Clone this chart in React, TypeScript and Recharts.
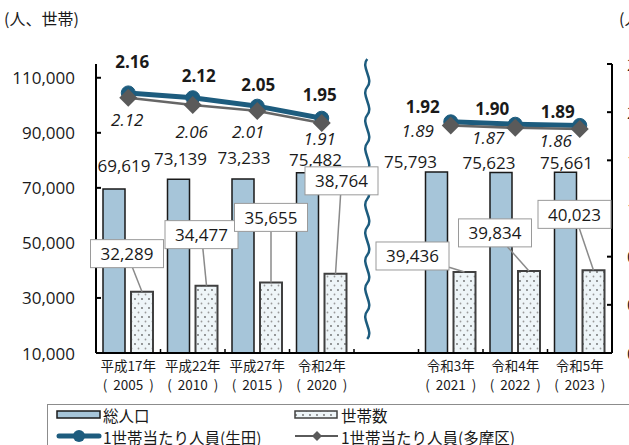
import React from 'react'
import { ComposedChart, Bar, Line, XAxis, YAxis, LabelList, ReferenceLine } from 'recharts'

const categories = ['平成17年', '平成22年', '平成27年', '令和2年', '', '令和3年', '令和4年', '令和5年']
const years = ['2005', '2010', '2015', '2020', '', '2021', '2022', '2023']
const population = [69619, 73139, 73233, 75482, null, 75793, 75623, 75661]
const households = [32289, 34477, 35655, 38764, null, 39436, 39834, 40023]
const ikutaPerHousehold = [2.16, 2.12, 2.05, 1.95, null, 1.92, 1.9, 1.89]
const tamaPerHousehold = [2.12, 2.06, 2.01, 1.91, null, 1.89, 1.87, 1.86]
const leftTicks = [10000, 30000, 50000, 70000, 90000, 110000]
const rightTicks = [0, 0.4, 0.8, 1.2, 1.6, 2.0, 2.4]

// label placement tweaks (dx, dy) per category, like the hand-placed labels in the original
const popLabelOffset = [[10, -23], [2, -21], [1, -21], [8, -13], [0, 0], [-26, -10], [-12, -10], [1, -10]]
const hhBoxOffset = [[-15, -38], [-5, -51], [0, -65], [6, -93], [0, 0], [-52, -16], [-34, -38], [-19, -56]]
const ikutaLabelOffset = [[4, -31], [6, -22], [1, -22], [-2, -24], [0, 0], [-28, -15], [-23, -16], [-22, -14]]
const tamaLabelOffset = [[-1, 22], [-1, 27], [-9, 21], [-2, 15], [0, 0], [-33, 5], [-27, 10], [-24, 11]]

const keys = categories.map((c, i) => c || 'gap' + i)
const data = keys.map((k, i) => ({
  key: k,
  population: population[i],
  households: households[i],
  ikuta: ikutaPerHousehold[i],
  tama: tamaPerHousehold[i]
}))

const FONT = '"Noto Sans CJK JP", "Noto Sans", sans-serif'
const NUM_FONT = '"Open Sans", "Noto Sans", sans-serif'
const TEXT = '#1a1a1a'
const IKUTA = '#1d5c7e'
const TAMA = '#5a5a5a'
const POP_FILL = '#a6c5d9'
const W = 629
const H = 445
const LEFT = 96
const RIGHT = 17
const BAND = (W - LEFT - RIGHT) / categories.length

const LeftTick = ({ x, y, payload }: any) => (
  <g>
    <text x={x} y={y} textAnchor="end" dominantBaseline="central" fontSize={17} fill={TEXT} fontFamily={NUM_FONT}>
      {Number(payload.value).toLocaleString('en-US')}
    </text>
    <line x1={x + 21} x2={x + 26} y1={y} y2={y} stroke="#000" strokeWidth={2} />
  </g>
)

const RightTick = ({ x, y, payload }: any) => (
  <g>
    <text x={x} y={y} textAnchor="start" dominantBaseline="central" fontSize={17} fill={TEXT} fontFamily={NUM_FONT}>
      {Number(payload.value).toFixed(1)}
    </text>
    <line x1={x - 15} x2={x - 20} y1={y} y2={y} stroke="#000" strokeWidth={2} />
  </g>
)

const CategoryTick = ({ x, y, payload }: any) => {
  const i = keys.indexOf(payload.value)
  return (
    <g>
      <line x1={x - BAND / 2} x2={x - BAND / 2} y1={y - 4} y2={y} stroke="#000" strokeWidth={1.5} />
      <text x={x} y={y + 12} textAnchor="middle" dominantBaseline="central" fontSize={13.5} fill={TEXT} fontFamily={FONT}>
        {categories[i]}
      </text>
      {years[i] && (
        <text x={x} y={y + 31} textAnchor="middle" dominantBaseline="central" fontSize={13.5} fill={TEXT} fontFamily={FONT}>
          (<tspan dx={6}>{years[i]}</tspan><tspan dx={6}>)</tspan>
        </text>
      )}
    </g>
  )
}

const PopLabel = ({ x, y, width, value }: any) => {
  const i = population.indexOf(value)
  if (value == null || i < 0) return null
  const [dx, dy] = popLabelOffset[i]
  return (
    <text x={x + width / 2 + dx} y={y + dy} textAnchor="middle" dominantBaseline="central" fontSize={17} fill={TEXT} fontFamily={NUM_FONT}>
      {Number(value).toLocaleString('en-US')}
    </text>
  )
}

const HouseholdLabel = ({ x, y, width, value }: any) => {
  const i = households.indexOf(value)
  if (value == null || i < 0) return null
  const [dx, dy] = hhBoxOffset[i]
  const tx = x + width / 2
  const ty = y
  const cx = tx + dx
  const cy = ty + dy
  const hw = 36.5
  const hh = 14
  const vx = tx - cx
  const vy = ty - cy
  const t = Math.min(vx === 0 ? 1e9 : hw / Math.abs(vx), vy === 0 ? 1e9 : hh / Math.abs(vy), 1)
  return (
    <g>
      <line x1={cx + vx * t} y1={cy + vy * t} x2={tx} y2={ty} stroke="#8a8a8a" strokeWidth={1.5} />
      <rect x={cx - hw} y={cy - hh} width={hw * 2} height={hh * 2} fill="#fff" stroke="#9a9a9a" strokeWidth={1} />
      <text x={cx} y={cy} textAnchor="middle" dominantBaseline="central" fontSize={17} fill={TEXT} fontFamily={NUM_FONT}>
        {Number(value).toLocaleString('en-US')}
      </text>
    </g>
  )
}

const makeLineLabel = (series: (number | null)[], offsets: number[][], style: any) => ({ x, y, value }: any) => {
  const i = series.indexOf(value)
  if (value == null || i < 0) return null
  const [dx, dy] = offsets[i]
  return (
    <text x={x + dx} y={y + dy} textAnchor="middle" dominantBaseline="central" fontSize={17} fill={TEXT} fontFamily={NUM_FONT} {...style}>
      {Number(value).toFixed(2)}
    </text>
  )
}

const IkutaLabel = makeLineLabel(ikutaPerHousehold, ikutaLabelOffset, { fontWeight: 700 })
const TamaLabel = makeLineLabel(tamaPerHousehold, tamaLabelOffset, { fontStyle: 'italic' })

const Diamond = ({ cx, cy, index }: any) => {
  if (cx == null || cy == null) return <g key={'d' + index} />
  const r = 9
  return (
    <polygon
      key={'d' + index}
      points={`${cx},${cy - r} ${cx + r},${cy} ${cx},${cy + r} ${cx - r},${cy}`}
      fill={TAMA}
    />
  )
}

// wavy break mark between 2020 and 2021
const WaveBreak = ({ x1, y1, y2 }: any) => {
  const x = x1 - 19
  const top = Math.min(y1, y2) - 5
  const bottom = Math.max(y1, y2) - 8
  const step = 28
  let d = `M ${x} ${top}`
  for (let yy = top; yy + step <= bottom + 1; yy += step) {
    d += ` C ${x - 7} ${yy + 8}, ${x + 7} ${yy + 20}, ${x} ${yy + step}`
  }
  return <path d={d} fill="none" stroke={IKUTA} strokeWidth={2.5} />
}

const DotPattern = ({ id }: { id: string }) => (
  <pattern id={id} width={7} height={9} patternUnits="userSpaceOnUse">
    <rect width={7} height={9} fill="#eef5f8" />
    <circle cx={2} cy={2} r={0.9} fill="#6a6a6a" />
    <circle cx={5.5} cy={6.5} r={0.9} fill="#9a9a9a" />
  </pattern>
)

const LegendBox = () => (
  <svg width={W} height={50} style={{ position: 'absolute', left: 0, top: 395 }}>
    <defs>
      <DotPattern id="legendDots" />
    </defs>
    <rect x={47.5} y={9.5} width={640} height={60} fill="#fff" stroke="#8c8c8c" strokeWidth={1} />
    <rect x={57} y={16} width={43} height={7} fill={POP_FILL} stroke="#1a1a1a" strokeWidth={1.5} />
    <text x={103} y={19.5} dominantBaseline="central" fontSize={15.5} fill={TEXT} fontFamily={FONT}>総人口</text>
    <rect x={295} y={16} width={42} height={7} fill="url(#legendDots)" stroke="#404040" strokeWidth={1.5} />
    <text x={341} y={19.5} dominantBaseline="central" fontSize={15.5} fill={TEXT} fontFamily={FONT}>世帯数</text>
    <line x1={59} x2={99} y1={41} y2={41} stroke={IKUTA} strokeWidth={5} strokeLinecap="round" />
    <circle cx={79} cy={41} r={6} fill={IKUTA} />
    <text x={103} y={42} dominantBaseline="central" fontSize={15.5} fill={TEXT} fontFamily={FONT}>1世帯当たり人員(生田)</text>
    <line x1={295} x2={338} y1={41} y2={41} stroke={TAMA} strokeWidth={2} />
    <polygon points="317,36 322,41 317,46 312,41" fill={TAMA} />
    <text x={341} y={42} dominantBaseline="central" fontSize={15.5} fill={TEXT} fontFamily={FONT}>1世帯当たり人員(多摩区)</text>
  </svg>
)

export default function App() {
  return (
    <div style={{ position: 'absolute', left: 0, top: 0, width: W, height: H, background: '#fff', overflow: 'hidden', fontFamily: FONT }}>
      <div style={{ position: 'absolute', left: 4, top: 6, fontSize: 16, color: TEXT, lineHeight: '24px' }}>(人、世帯)</div>
      <div style={{ position: 'absolute', left: 619, top: 6, fontSize: 16, color: TEXT, lineHeight: '24px', whiteSpace: 'nowrap' }}>(人)</div>
      <ComposedChart
        width={W}
        height={H}
        data={data}
        margin={{ top: 64, right: 0, bottom: 42, left: 0 }}
        barSize={22}
        barGap={6}
        style={{ position: 'absolute', left: 0, top: 0 }}
      >
        <defs>
          <DotPattern id="hhDots" />
        </defs>
        <XAxis
          dataKey="key"
          xAxisId="x"
          height={50}
          tickSize={0}
          tickMargin={0}
          tickLine={false}
          interval={0}
          axisLine={{ stroke: '#000', strokeWidth: 2 }}
          tick={<CategoryTick />}
        />
        <YAxis
          yAxisId="left"
          width={LEFT}
          domain={[10000, 115000]}
          ticks={leftTicks}
          allowDataOverflow
          tickSize={0}
          tickMargin={21}
          tickLine={false}
          axisLine={{ stroke: '#000', strokeWidth: 2 }}
          tick={<LeftTick />}
        />
        <YAxis
          yAxisId="right"
          orientation="right"
          width={RIGHT}
          domain={[0, 2.4]}
          ticks={rightTicks}
          allowDataOverflow
          tickSize={0}
          tickMargin={15}
          tickLine={false}
          axisLine={{ stroke: '#000', strokeWidth: 2 }}
          tick={<RightTick />}
        />
        <Bar dataKey="population" xAxisId="x" yAxisId="left" fill={POP_FILL} stroke="#1a1a1a" strokeWidth={1.5} isAnimationActive={false}>
          <LabelList dataKey="population" content={<PopLabel />} />
        </Bar>
        <Bar dataKey="households" xAxisId="x" yAxisId="left" fill="url(#hhDots)" stroke="#404040" strokeWidth={2} isAnimationActive={false}>
          <LabelList dataKey="households" content={<HouseholdLabel />} />
        </Bar>
        <Line
          dataKey="ikuta"
          xAxisId="x"
          yAxisId="right"
          type="linear"
          stroke={IKUTA}
          strokeWidth={5}
          dot={{ r: 7, fill: IKUTA, stroke: IKUTA, strokeWidth: 1 }}
          connectNulls={false}
          isAnimationActive={false}
        >
          <LabelList dataKey="ikuta" content={<IkutaLabel />} />
        </Line>
        <Line
          dataKey="tama"
          xAxisId="x"
          yAxisId="right"
          type="linear"
          stroke="#666"
          strokeWidth={2.5}
          dot={<Diamond />}
          connectNulls={false}
          isAnimationActive={false}
        >
          <LabelList dataKey="tama" content={<TamaLabel />} />
        </Line>
        <ReferenceLine x={'gap4'} xAxisId="x" yAxisId="left" shape={(p: any) => <WaveBreak {...p} />} />
      </ComposedChart>
      <LegendBox />
    </div>
  )
}
